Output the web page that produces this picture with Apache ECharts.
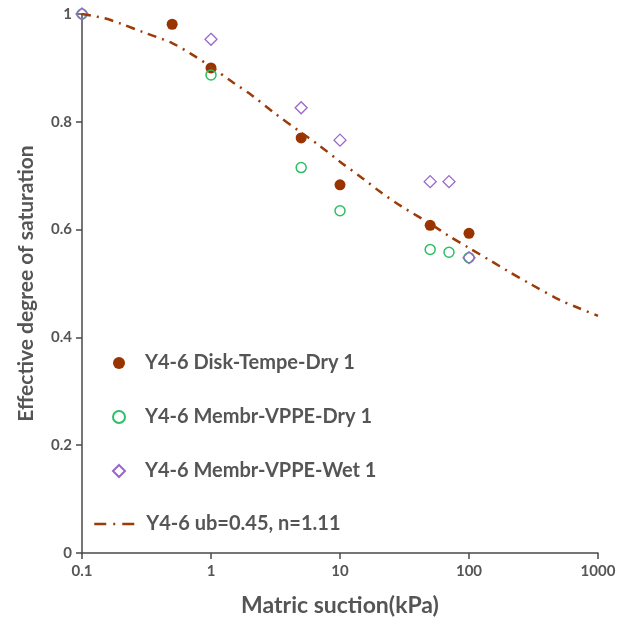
<!DOCTYPE html>
<html><head><meta charset="utf-8">
<script src="https://cdn.jsdelivr.net/npm/echarts@6/dist/echarts.min.js"></script>
<style>html,body{margin:0;padding:0;background:#fff}#c{width:625px;height:619px}</style>
</head><body><div id="c"></div>
<script>
// Data
const diskX = [0.5, 1, 5, 10, 50, 100];
const diskY = [0.981, 0.900, 0.770, 0.683, 0.608, 0.593];
const membrDryX = [0.1, 1, 5, 10, 50, 70, 100];
const membrDryY = [1.0, 0.887, 0.715, 0.635, 0.563, 0.558, 0.548];
const membrWetX = [0.1, 1, 5, 10, 50, 70, 100];
const membrWetY = [1.0, 0.953, 0.826, 0.766, 0.689, 0.689, 0.548];
const fitX = [0.1, 0.15, 0.2, 0.3, 0.5, 0.7, 1, 1.5, 2, 3, 5, 7, 10, 15, 20, 30, 50, 70, 100, 150, 200, 300, 500, 700, 1000];
const fitY = [1.0, 0.992, 0.982, 0.966, 0.946, 0.926, 0.902, 0.872, 0.852, 0.819, 0.780, 0.755, 0.726, 0.695, 0.672, 0.643, 0.611, 0.588, 0.566, 0.541, 0.523, 0.499, 0.470, 0.455, 0.440];
const xTicks = [0.1, 1, 10, 100, 1000];
const seriesNames = ['Y4-6 Disk-Tempe-Dry 1', 'Y4-6 Membr-VPPE-Dry 1', 'Y4-6 Membr-VPPE-Wet 1', 'Y4-6 ub=0.45, n=1.11'];

const zip = (xs, ys) => xs.map((x, i) => [x, ys[i]]);
const FONT = 'Lato';
const GRAY = '#555555';
const AXIS = '#4a4a4a';

const chart = echarts.init(document.getElementById('c'), null, {renderer: 'canvas'});
chart.setOption({
  animation: false,
  backgroundColor: '#fff',
  grid: {left: 82, right: 27, top: 14, bottom: 66, containLabel: false, outerBoundsMode: 'none'},
  xAxis: {
    type: 'log', logBase: 10, min: 0.1, max: 1000,
    name: 'Matric suction(kPa)', nameLocation: 'middle', nameGap: 41,
    nameTextStyle: {fontFamily: FONT, fontWeight: 'bold', fontSize: 23, color: GRAY},
    axisLine: {show: true, lineStyle: {color: AXIS, width: 1.5}},
    axisTick: {show: true, length: 6, lineStyle: {color: AXIS, width: 1.5}},
    minorTick: {show: false},
    splitLine: {show: false},
    axisLabel: {fontFamily: FONT, fontWeight: 'bold', fontSize: 15, color: GRAY, margin: 11,
      formatter: v => { const t = xTicks.find(k => Math.abs(Math.log10(k) - Math.log10(v)) < 1e-6); return t !== undefined ? String(t) : ''; }}
  },
  yAxis: {
    type: 'value', min: 0, max: 1, interval: 0.2,
    name: 'Effective degree of saturation', nameLocation: 'middle', nameGap: 45,
    nameTextStyle: {fontFamily: FONT, fontWeight: 'bold', fontSize: 21, color: GRAY},
    axisLine: {show: true, lineStyle: {color: AXIS, width: 1.5}},
    axisTick: {show: true, length: 6, lineStyle: {color: AXIS, width: 1.5}},
    splitLine: {show: false},
    axisLabel: {fontFamily: FONT, fontWeight: 'bold', fontSize: 15, color: GRAY, margin: 10}
  },
  legend: [{
    data: seriesNames.slice(0, 3), orient: 'vertical', left: 112, top: 353, padding: 0,
    itemWidth: 12, itemHeight: 12, itemGap: 34,
    textStyle: {fontFamily: FONT, fontWeight: 'bold', fontSize: 20, color: GRAY, lineHeight: 17, padding: [0, 0, 0, 15]}
  }, {
    data: seriesNames.slice(3), orient: 'vertical', left: 93, top: 514, padding: 0,
    itemWidth: 40, itemHeight: 12,
    itemStyle: {opacity: 0},
    lineStyle: {type: [12, 7, 2, 7], width: 2.5},
    textStyle: {fontFamily: FONT, fontWeight: 'bold', fontSize: 20, color: GRAY, lineHeight: 17, padding: [0, 0, 0, 7]}
  }],
  series: [{
    name: seriesNames[0], type: 'scatter', data: zip(diskX, diskY),
    symbol: 'circle', symbolSize: 11,
    itemStyle: {color: '#993300', opacity: 1}
  }, {
    name: seriesNames[1], type: 'scatter', data: zip(membrDryX, membrDryY),
    symbol: 'circle', symbolSize: 10,
    itemStyle: {color: 'rgba(0,0,0,0)', borderColor: '#2cbf66', borderWidth: 1.5, opacity: 1}
  }, {
    name: seriesNames[2], type: 'scatter', data: zip(membrWetX, membrWetY),
    symbol: 'diamond', symbolSize: 12,
    itemStyle: {color: 'rgba(0,0,0,0)', borderColor: '#9966cc', borderWidth: 1.3, opacity: 1}
  }, {
    name: seriesNames[3], type: 'line', data: zip(fitX, fitY),
    symbol: 'none', smooth: 0.3,
    lineStyle: {color: '#9c3b08', width: 2.5, type: [9, 6, 2, 6]},
    itemStyle: {color: '#9c3b08'}
  }]
});
</script></body></html>
